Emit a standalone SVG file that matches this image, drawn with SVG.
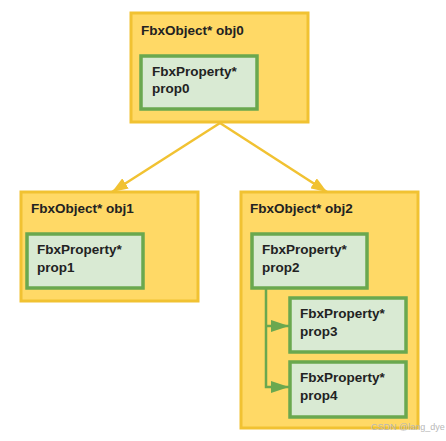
<svg xmlns="http://www.w3.org/2000/svg" width="446" height="441" viewBox="0 0 446 441">
<style>
.obj{fill:#FFD966;stroke:#F1C232;stroke-width:3}
.prop{fill:#D9EAD3;stroke:#6AA84F;stroke-width:3.5}
text{font-family:"Liberation Sans",Arial,sans-serif;font-weight:bold;font-size:13.5px;fill:#222}
.ylink{stroke:#F1C232;stroke-width:2.5;fill:none}
.glink{stroke:#6AA84F;stroke-width:2.5;fill:none}
.wm{font-weight:normal;font-size:9px;fill:#b8b8b8}
</style>
<defs>
<marker id="ya" markerWidth="16" markerHeight="12" refX="16" refY="6" orient="auto" markerUnits="userSpaceOnUse" viewBox="0 0 16 12">
<path d="M0,0 L16,6 L0,12 z" fill="#F1C232"/>
</marker>
<marker id="ga" markerWidth="18" markerHeight="12" refX="18" refY="6" orient="auto" markerUnits="userSpaceOnUse" viewBox="0 0 18 12">
<path d="M0,0 L18,6 L0,12 z" fill="#6AA84F"/>
</marker>
</defs>
<g id="obj0">
<rect class="obj" x="131" y="13" width="177" height="109"/>
<text x="141" y="35">FbxObject* obj0</text>
</g>
<g id="prop0">
<rect class="prop" x="141" y="56" width="116" height="53"/>
<text x="152" y="76">FbxProperty*</text>
<text x="152" y="93">prop0</text>
</g>
<g id="obj1">
<rect class="obj" x="21" y="192" width="177" height="109"/>
<text x="31" y="213">FbxObject* obj1</text>
</g>
<g id="prop1">
<rect class="prop" x="27" y="234" width="116" height="54"/>
<text x="37" y="254">FbxProperty*</text>
<text x="37" y="272">prop1</text>
</g>
<g id="obj2">
<rect class="obj" x="241" y="192" width="177" height="236"/>
<text x="250" y="213">FbxObject* obj2</text>
</g>
<g id="prop2">
<rect class="prop" x="252" y="234" width="115" height="54"/>
<text x="262" y="254">FbxProperty*</text>
<text x="262" y="272">prop2</text>
</g>
<g id="prop3">
<rect class="prop" x="290" y="298" width="116" height="54"/>
<text x="300" y="318">FbxProperty*</text>
<text x="300" y="336">prop3</text>
</g>
<g id="prop4">
<rect class="prop" x="290" y="362" width="116" height="55"/>
<text x="300" y="382">FbxProperty*</text>
<text x="300" y="400">prop4</text>
</g>
<g id="connectors">
<path class="ylink" d="M220,123 L112,192" marker-end="url(#ya)"/>
<path class="ylink" d="M220,123 L327,192" marker-end="url(#ya)"/>
<path class="glink" d="M266,289 L266,387 L289,387" marker-end="url(#ga)"/>
<path class="glink" d="M266,326 L289,326" marker-end="url(#ga)"/>
</g>
<text class="wm" x="371" y="430">CSDN @lang_dye</text>
</svg>
